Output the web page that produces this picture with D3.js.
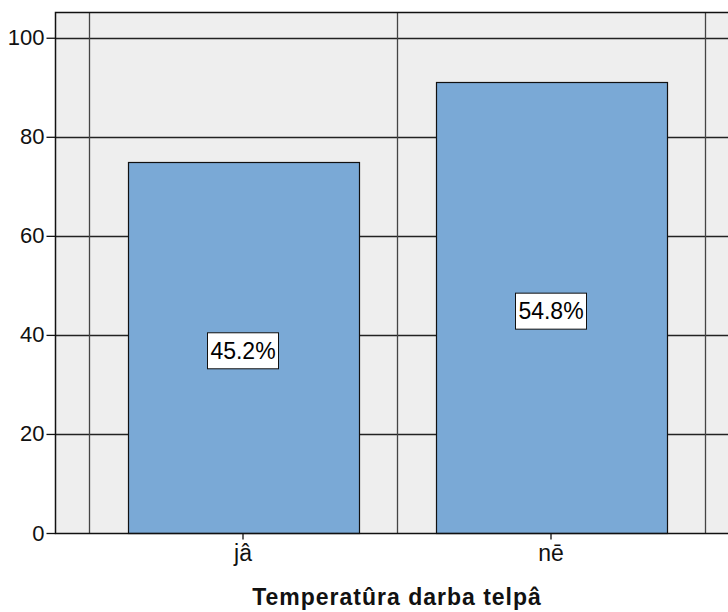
<!DOCTYPE html>
<html>
<head>
<meta charset="utf-8">
<script src="https://cdn.jsdelivr.net/npm/d3@7"></script>
<style>
  html, body { margin: 0; padding: 0; background: #fff; }
  svg { display: block; }
</style>
</head>
<body>
<svg id="chart" width="728" height="612"></svg>
<script>
// Counts per answer; percentage labels are each count's share of the total
const categories = ["jâ", "nē"];
const counts = [75, 91];
const yTicks = [0, 20, 40, 60, 80, 100];
const xTitle = "Temperatûra darba telpâ";

const svg = d3.select("#chart");

const plotLeft = 55, plotTop = 12, plotBottom = 533;
const x = d3.scaleBand().domain(categories).range([89, 705]).paddingInner(0.25).paddingOuter(0.125);
const y = d3.scaleLinear().domain([0, 105.2]).range([plotBottom, plotTop]);
const step = x.step();
const bandStart = 89;
const plotRight = bandStart + categories.length * step + (bandStart - plotLeft);

const total = d3.sum(counts);
const data = categories.map((c, i) => ({ cat: c, value: counts[i], pct: counts[i] / total * 100 }));

const font = "'Liberation Sans', Arimo, Arial, sans-serif";

// Plot background
svg.append("rect")
  .attr("x", plotLeft).attr("y", plotTop)
  .attr("width", plotRight - plotLeft).attr("height", plotBottom - plotTop)
  .attr("fill", "#eeeeee");

// Horizontal gridlines
svg.append("g").selectAll("line").data(yTicks.filter(d => d > 0)).join("line")
  .attr("x1", plotLeft).attr("x2", plotRight)
  .attr("y1", d => Math.round(y(d)) + 0.5).attr("y2", d => Math.round(y(d)) + 0.5)
  .attr("stroke", "#222").attr("stroke-width", 1.3);

// Vertical gridlines at category boundaries
const bounds = d3.range(categories.length + 1).map(i => bandStart + i * step);
svg.append("g").selectAll("line").data(bounds).join("line")
  .attr("x1", d => d + 0.5).attr("x2", d => d + 0.5)
  .attr("y1", plotTop).attr("y2", plotBottom)
  .attr("stroke", "#444").attr("stroke-width", 1.3);

// Bars
svg.append("g").selectAll("rect").data(data).join("rect")
  .attr("x", d => Math.round(x(d.cat)) + 0.5)
  .attr("y", d => Math.round(y(d.value)) + 0.5)
  .attr("width", Math.round(x.bandwidth()))
  .attr("height", d => plotBottom - Math.round(y(d.value)))
  .attr("fill", "#7aa9d6")
  .attr("stroke", "#111").attr("stroke-width", 1.2);

// Plot frame
svg.append("rect")
  .attr("x", plotLeft + 0.5).attr("y", plotTop + 0.5)
  .attr("width", plotRight - plotLeft).attr("height", plotBottom - plotTop)
  .attr("fill", "none").attr("stroke", "#111").attr("stroke-width", 1.5);

// Y axis
const yAxis = svg.append("g")
  .attr("transform", `translate(${plotLeft + 0.5},0)`)
  .call(d3.axisLeft(y).tickValues(yTicks).tickSize(9).tickPadding(2))
  .attr("font-family", font).attr("font-size", 22);
yAxis.select(".domain").remove();
yAxis.selectAll(".tick line").attr("stroke", "#111").attr("stroke-width", 1.3);
yAxis.selectAll(".tick text")
  .style("font-family", font).style("font-size", "22px").attr("fill", "#111");

// X axis
const xAxis = svg.append("g")
  .attr("transform", `translate(0,${plotBottom + 0.5})`)
  .call(d3.axisBottom(x).tickSize(6).tickPadding(5))
  .attr("font-family", font).attr("font-size", 23);
xAxis.select(".domain").remove();
xAxis.selectAll(".tick line").attr("stroke", "#111").attr("stroke-width", 1.3);
xAxis.selectAll(".tick text")
  .style("font-family", font).style("font-size", "23px").attr("fill", "#111");

// Percentage labels in boxes, centred on the middle of each bar
const labels = svg.append("g").selectAll("g").data(data).join("g")
  .attr("transform", d => `translate(${x(d.cat) + x.bandwidth() / 2},${y(d.value / 2) + 3})`);
labels.append("text")
  .attr("text-anchor", "middle").attr("dy", "0.36em")
  .style("font-family", font).style("font-size", "23px").attr("fill", "#000")
  .text(d => d3.format(".1f")(d.pct) + "%");
labels.each(function () {
  const g = d3.select(this);
  const b = g.select("text").node().getBBox();
  const w = Math.round(b.width + 6), h = 36;
  g.insert("rect", "text")
    .attr("x", -Math.round(w / 2) + 0.5).attr("y", -h / 2 + 0.5)
    .attr("width", w).attr("height", h)
    .attr("fill", "#fff").attr("stroke", "#111").attr("stroke-width", 1);
});

// X axis title
svg.append("text")
  .attr("x", bandStart + step).attr("y", 605)
  .attr("text-anchor", "middle")
  .style("font-family", font).style("font-size", "23px").attr("font-weight", "bold")
  .attr("letter-spacing", 1)
  .attr("fill", "#111")
  .text(xTitle);
</script>
</body>
</html>
